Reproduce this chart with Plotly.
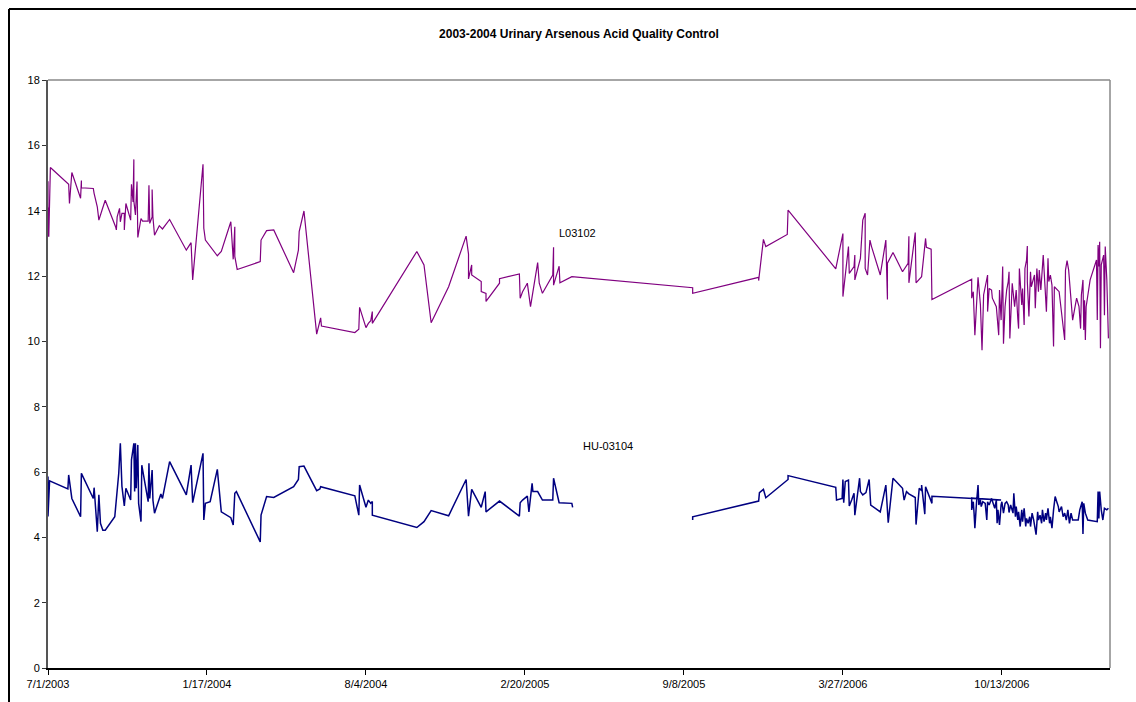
import plotly.graph_objects as go

TITLE = "2003-2004 Urinary Arsenous Acid Quality Control"

l_name = "L03102"
l_dates = [
    "2003-07-01", "2003-07-01", "2003-07-02", "2003-07-02", "2003-07-04", "2003-07-27", "2003-07-28",
    "2003-07-31", "2003-08-11", "2003-08-12", "2003-08-12", "2003-08-27", "2003-08-28", "2003-09-01",
    "2003-09-03", "2003-09-07", "2003-09-11", "2003-09-24", "2003-09-25", "2003-09-26", "2003-09-29",
    "2003-09-30", "2003-10-02", "2003-10-05", "2003-10-05", "2003-10-07", "2003-10-13", "2003-10-14",
    "2003-10-16", "2003-10-17", "2003-10-17", "2003-10-19", "2003-10-21", "2003-10-22", "2003-10-26",
    "2003-10-28", "2003-11-04", "2003-11-05", "2003-11-06", "2003-11-09", "2003-11-09", "2003-11-10",
    "2003-11-12", "2003-11-18", "2003-11-22", "2003-12-01", "2003-12-22", "2003-12-28", "2003-12-30",
    "2004-01-12", "2004-01-13", "2004-01-15", "2004-01-30", "2004-02-04", "2004-02-16", "2004-02-19",
    "2004-02-21", "2004-02-21", "2004-02-24", "2004-03-24", "2004-03-25", "2004-04-01", "2004-04-10",
    "2004-05-05", "2004-05-11", "2004-05-12", "2004-05-18", "2004-06-03", "2004-06-06", "2004-06-08",
    "2004-06-09", "2004-07-21", "2004-07-26", "2004-07-27", "2004-08-04", "2004-08-07", "2004-08-10",
    "2004-08-12", "2004-08-12", "2004-10-07", "2004-10-16", "2004-10-25", "2004-11-16", "2004-12-08",
    "2004-12-11", "2004-12-11", "2004-12-15", "2004-12-15", "2004-12-27", "2004-12-27", "2005-01-02",
    "2005-01-02", "2005-01-19", "2005-01-19", "2005-02-13", "2005-02-14", "2005-02-17", "2005-02-23",
    "2005-02-27", "2005-03-01", "2005-03-08", "2005-03-10", "2005-03-14", "2005-03-27", "2005-03-28",
    "2005-03-28", "2005-04-04", "2005-04-05", "2005-04-20", "2005-09-19", "2005-09-19", "2005-12-11",
    "2005-12-11", "2005-12-17", "2005-12-20", "2006-01-16", "2006-01-17", "2006-03-18", "2006-03-27",
    "2006-03-27", "2006-04-03", "2006-04-04", "2006-04-10", "2006-04-11", "2006-04-11", "2006-04-18",
    "2006-04-21", "2006-04-24", "2006-04-24", "2006-04-27", "2006-04-30", "2006-05-02", "2006-05-13",
    "2006-05-20", "2006-05-22", "2006-05-22", "2006-05-29", "2006-06-10", "2006-06-17", "2006-06-18",
    "2006-06-18", "2006-06-26", "2006-06-27", "2006-07-04", "2006-07-09", "2006-07-10", "2006-07-16",
    "2006-07-17", "2006-09-05", "2006-09-05", "2006-09-07", "2006-09-09", "2006-09-11", "2006-09-13",
    "2006-09-16", "2006-09-18", "2006-09-20", "2006-09-25", "2006-09-25", "2006-09-27", "2006-09-30",
    "2006-10-01", "2006-10-06", "2006-10-07", "2006-10-09", "2006-10-10", "2006-10-12", "2006-10-14",
    "2006-10-15", "2006-10-17", "2006-10-19", "2006-10-21", "2006-10-22", "2006-10-23", "2006-10-26",
    "2006-10-29", "2006-10-31", "2006-11-02", "2006-11-03", "2006-11-04", "2006-11-07", "2006-11-08",
    "2006-11-10", "2006-11-11", "2006-11-13", "2006-11-14", "2006-11-14", "2006-11-16", "2006-11-18",
    "2006-11-19", "2006-11-23", "2006-11-24", "2006-11-26", "2006-11-28", "2006-11-29", "2006-12-01",
    "2006-12-03", "2006-12-04", "2006-12-06", "2006-12-08", "2006-12-10", "2006-12-11", "2006-12-13",
    "2006-12-15", "2006-12-17", "2006-12-18", "2006-12-24", "2006-12-31", "2007-01-01", "2007-01-03",
    "2007-01-05", "2007-01-10", "2007-01-15", "2007-01-18", "2007-01-20", "2007-01-21", "2007-01-23",
    "2007-01-24", "2007-01-25", "2007-01-26", "2007-01-27", "2007-02-01", "2007-02-09", "2007-02-10",
    "2007-02-11", "2007-02-12", "2007-02-13", "2007-02-14", "2007-02-15", "2007-02-18", "2007-02-19",
    "2007-02-20", "2007-02-22", "2007-02-24",
]
l_values = [
    14.9, 13.2, 14.1, 13.2, 15.32, 14.81, 14.22,
    15.17, 14.38, 14.92, 14.7, 14.68, 14.53, 14.12,
    13.71, 14.02, 14.32, 13.51, 13.41, 13.81, 14.07,
    13.66, 13.92, 13.92, 13.41, 14.22, 13.71, 14.81,
    14.27, 15.57, 14.3, 13.87, 14.89, 13.18, 13.76,
    13.68, 13.68, 14.78, 13.61, 13.81, 14.65, 13.8,
    13.25, 13.54, 13.44, 13.73, 12.79, 13.02, 11.88,
    15.42, 13.46, 13.1, 12.62, 12.75, 13.66, 12.51,
    13.51, 12.6, 12.2, 12.44, 13.1, 13.39, 13.41,
    12.1, 12.79, 13.36, 13.99, 10.22, 10.5, 10.72,
    10.47, 10.27, 10.37, 11.04, 10.42, 10.55, 10.63,
    10.91, 10.55, 12.75, 12.34, 10.57, 11.67, 13.22,
    12.67, 11.91, 12.34, 12.03, 11.83, 11.52, 11.47,
    11.22, 11.78, 11.92, 12.06, 11.32, 11.52, 11.78,
    11.06, 11.37, 12.41, 11.78, 11.47, 12.03, 12.88,
    11.72, 12.3, 11.79, 11.98, 11.64, 11.47, 11.96,
    11.86, 13.12, 12.9, 13.27, 14.02, 12.22, 13.3,
    11.37, 12.9, 12.08, 12.29, 12.64, 11.88, 12.54,
    13.71, 13.92, 12.23, 12.03, 13.1, 12.9, 12.03,
    13.1, 11.28, 12.39, 12.72, 12.13, 12.39, 13.22,
    11.79, 13.33, 11.79, 11.98, 13.15, 12.88, 12.82,
    11.28, 11.9, 11.32, 11.52, 10.19, 11.06, 11.96,
    11.11, 9.73, 11.42, 12.03, 10.91, 11.62, 11.57,
    11.32, 11.06, 10.7, 10.19, 11.57, 10.65, 12.29,
    9.93, 11.06, 11.57, 11.83, 12.13, 10.09, 11.78,
    11.06, 11.57, 10.7, 10.39, 12.23, 11.11, 11.62,
    10.5, 12.23, 12.49, 12.92, 11.83, 10.76, 12.13,
    11.67, 12.03, 11.01, 12.23, 11.52, 12.18, 11.57,
    12.18, 12.64, 11.78, 10.91, 12.54, 11.83, 12.03,
    11.72, 9.84, 11.67, 11.52, 10.04, 12.18, 12.47,
    12.18, 10.65, 11.32, 11.06, 10.39, 11.42, 11.88,
    10.35, 11.26, 10.04, 11.06, 11.88, 12.49, 10.65,
    12.95, 12.29, 13.05, 9.79, 12.34, 12.64, 10.8,
    12.9, 11.88, 10.09,
]

hu_name = "HU-03104"
hu_dates = [
    "2003-07-01", "2003-07-01", "2003-07-03", "2003-07-26", "2003-07-27", "2003-07-31", "2003-08-11",
    "2003-08-12", "2003-08-27", "2003-08-28", "2003-08-29", "2003-09-01", "2003-09-03", "2003-09-05",
    "2003-09-08", "2003-09-11", "2003-09-23", "2003-09-28", "2003-09-30", "2003-10-02", "2003-10-05",
    "2003-10-07", "2003-10-13", "2003-10-14", "2003-10-17", "2003-10-18", "2003-10-19", "2003-10-20",
    "2003-10-22", "2003-10-23", "2003-10-26", "2003-10-27", "2003-11-04", "2003-11-05", "2003-11-06",
    "2003-11-09", "2003-11-10", "2003-11-12", "2003-11-20", "2003-11-22", "2003-12-01", "2003-12-22",
    "2003-12-28", "2003-12-30", "2004-01-12", "2004-01-13", "2004-01-15", "2004-01-21", "2004-01-30",
    "2004-02-04", "2004-02-16", "2004-02-19", "2004-02-21", "2004-02-23", "2004-03-24", "2004-03-25",
    "2004-04-01", "2004-04-10", "2004-05-05", "2004-05-11", "2004-05-12", "2004-05-18", "2004-06-03",
    "2004-06-07", "2004-06-08", "2004-07-21", "2004-07-26", "2004-07-27", "2004-08-04", "2004-08-07",
    "2004-08-10", "2004-08-12", "2004-08-12", "2004-10-07", "2004-10-16", "2004-10-25", "2004-11-16",
    "2004-12-08", "2004-12-11", "2004-12-15", "2004-12-27", "2005-01-01", "2005-01-02", "2005-01-19",
    "2005-02-13", "2005-02-14", "2005-02-17", "2005-02-23", "2005-02-25", "2005-03-01", "2005-03-02",
    "2005-03-08", "2005-03-14", "2005-03-27", "2005-03-28", "2005-04-04", "2005-04-20", "2005-04-21",
    "2005-06-15",
    "2005-09-19", "2005-09-19", "2005-12-11", "2005-12-12", "2005-12-17", "2005-12-20", "2006-01-17",
    "2006-01-17", "2006-03-18", "2006-03-19", "2006-03-26", "2006-03-27", "2006-03-28", "2006-03-30",
    "2006-04-03", "2006-04-04", "2006-04-07", "2006-04-10", "2006-04-11", "2006-04-17", "2006-04-18",
    "2006-04-21", "2006-04-25", "2006-04-29", "2006-05-01", "2006-05-13", "2006-05-20", "2006-05-23",
    "2006-05-29", "2006-06-10", "2006-06-12", "2006-06-15", "2006-06-18", "2006-06-26", "2006-06-27",
    "2006-07-01", "2006-07-04", "2006-07-04", "2006-07-08", "2006-07-09", "2006-07-17", "2006-07-17",
    "2006-10-12", "2006-09-05", "2006-09-05", "2006-09-07", "2006-09-08", "2006-09-09", "2006-09-11",
    "2006-09-13", "2006-09-14", "2006-09-16", "2006-09-17", "2006-09-19", "2006-09-22", "2006-09-24",
    "2006-09-25", "2006-09-27", "2006-09-30", "2006-10-02", "2006-10-04", "2006-10-06", "2006-10-07",
    "2006-10-08", "2006-10-10", "2006-10-12", "2006-10-13", "2006-10-15", "2006-10-17", "2006-10-19",
    "2006-10-21", "2006-10-22", "2006-10-24", "2006-10-27", "2006-10-28", "2006-10-30", "2006-10-31",
    "2006-11-02", "2006-11-03", "2006-11-05", "2006-11-07", "2006-11-08", "2006-11-10", "2006-11-12",
    "2006-11-13", "2006-11-15", "2006-11-17", "2006-11-18", "2006-11-20", "2006-11-22", "2006-11-23",
    "2006-11-25", "2006-11-27", "2006-11-28", "2006-11-30", "2006-12-02", "2006-12-03", "2006-12-05",
    "2006-12-07", "2006-12-08", "2006-12-10", "2006-12-12", "2006-12-13", "2006-12-15", "2006-12-17",
    "2006-12-19", "2006-12-21", "2006-12-23", "2006-12-24", "2006-12-27", "2006-12-29", "2006-12-31",
    "2007-01-02", "2007-01-04", "2007-01-06", "2007-01-08", "2007-01-10", "2007-01-17", "2007-01-19",
    "2007-01-21", "2007-01-22", "2007-01-23", "2007-01-24", "2007-01-26", "2007-01-29", "2007-02-10",
    "2007-02-11", "2007-02-12", "2007-02-13", "2007-02-15", "2007-02-17", "2007-02-19", "2007-02-22",
    "2007-02-24",
]
hu_values = [
    5.86, 4.64, 5.73, 5.48, 5.91, 5.19, 4.63,
    5.96, 5.19, 5.52, 5.19, 4.17, 5.3, 4.43,
    4.22, 4.22, 4.63, 5.96, 6.88, 5.56, 4.96,
    5.5, 5.14, 6.37, 6.88, 5.4, 6.88, 5.5,
    6.83, 5.04, 4.48, 6.21, 5.09, 6.27, 5.19,
    6.06, 5.14, 4.74, 5.33, 5.19, 6.32, 5.3,
    6.21, 5.06, 6.57, 4.53, 5.04, 5.09, 6.08,
    4.78, 4.6, 4.38, 5.35, 5.4, 3.86, 4.68,
    5.25, 5.22, 5.55, 5.77, 6.16, 6.18, 5.43,
    5.48, 5.55, 5.27, 4.68, 5.6, 4.92, 5.14,
    5.04, 5.1, 4.68, 4.3, 4.48, 4.82, 4.66,
    5.77, 4.65, 5.47, 4.92, 5.4, 4.78, 5.11,
    4.65, 5.06, 5.14, 5.26, 4.78, 5.65, 5.4,
    5.4, 5.14, 5.14, 5.81, 5.06, 5.04, 4.92,
    None,
    4.53, 4.63, 5.11, 5.37, 5.47, 5.21, 5.77,
    5.89, 5.53, 5.14, 5.19, 5.77, 5.06, 5.71,
    5.75, 4.96, 5.14, 5.35, 4.68, 5.81, 5.4,
    5.3, 5.37, 5.77, 4.99, 4.78, 5.6, 4.45,
    5.81, 5.5, 5.14, 5.4, 5.33, 5.22, 4.39,
    5.5, 5.43, 5.6, 4.71, 5.55, 5.04, 5.26,
    5.14, 5.2, 4.84, 5.09, 4.74, 4.28, 5.04,
    5.6, 4.99, 5.14, 4.94, 5.09, 5.04, 4.53,
    5.09, 4.99, 5.19, 5.04, 4.89, 5.14, 4.43,
    4.84, 4.38, 4.99, 5.09, 4.74, 5.04, 5.09,
    4.99, 4.76, 4.99, 4.74, 5.35, 4.63, 4.94,
    4.53, 4.78, 4.33, 4.84, 4.48, 4.89, 4.33,
    4.58, 4.43, 4.63, 4.33, 4.74, 4.53, 4.38,
    4.08, 4.78, 4.53, 4.68, 4.43, 4.84, 4.48,
    4.74, 4.53, 4.89, 4.43, 4.63, 4.28, 4.84,
    5.25, 5.09, 4.94, 4.78, 4.94, 4.63, 4.74,
    4.53, 4.84, 4.43, 4.74, 4.53, 4.53, 4.84,
    4.99, 5.09, 4.1, 5.04, 4.74, 4.53, 4.48,
    5.4, 4.58, 5.4, 4.84, 4.53, 4.89, 4.84,
    4.89,
]

x_range = ["2003-07-01", "2007-02-26"]
x_tick0 = "2003-07-01"
x_tick_days = 200
y_range = [0, 18]
y_tick_step = 2

FONT = "Liberation Sans, Arial, sans-serif"

FIG_W, FIG_H = 1136, 702
M_L, M_R, M_T, M_B = 48, 26, 80, 34
PW = FIG_W - M_L - M_R
PH = FIG_H - M_T - M_B

fig = go.Figure()
fig.add_trace(go.Scatter(x=l_dates, y=l_values, mode="lines", name=l_name,
                         line=dict(color="#800080", width=1.2), connectgaps=False))
fig.add_trace(go.Scatter(x=hu_dates, y=hu_values, mode="lines", name=hu_name,
                         line=dict(color="#000080", width=1.5), connectgaps=False))

frame_x = (9 - M_L) / PW
frame_y = 1 + (M_T - 9) / PH

fig.update_layout(
    width=FIG_W, height=FIG_H,
    margin=dict(l=M_L, r=M_R, t=M_T, b=M_B, autoexpand=False),
    paper_bgcolor="white", plot_bgcolor="white",
    showlegend=False,
    hovermode=False,
    font=dict(family=FONT, size=11, color="#000000"),
    title=dict(text="<b>" + TITLE + "</b>", x=0.5, xref="paper", xanchor="center",
               y=1 - 34 / FIG_H, yref="container", yanchor="middle",
               font=dict(family=FONT, size=12, color="#000000")),
    xaxis=dict(type="date", range=x_range, tick0=x_tick0, dtick=x_tick_days * 86400000,
               tickformat="%-m/%-d/%Y", showgrid=False, zeroline=False,
               showline=True, linecolor="#000000", linewidth=1.5,
               ticks="outside", ticklen=5, tickcolor="#000000", tickwidth=1,
               tickfont=dict(family=FONT, size=11, color="#000000")),
    yaxis=dict(range=y_range, dtick=y_tick_step, tick0=0, showgrid=False, zeroline=False,
               showline=True, linecolor="#555555", linewidth=2,
               ticks="outside", ticklen=4, tickcolor="#333333", tickwidth=1,
               tickfont=dict(family=FONT, size=11, color="#000000")),
    annotations=[
        dict(text=l_name, x=0.499, y=0.7398, xref="paper", yref="paper",
             xanchor="center", yanchor="middle",
             showarrow=False, font=dict(family=FONT, size=11, color="#000000")),
        dict(text=hu_name, x=0.527, y=0.3776, xref="paper", yref="paper",
             xanchor="center", yanchor="middle",
             showarrow=False, font=dict(family=FONT, size=11, color="#000000")),
    ],
    shapes=[
        dict(type="line", xref="paper", yref="paper", x0=0, x1=1, y0=1, y1=1,
             line=dict(color="#888888", width=1.5), layer="below"),
        dict(type="line", xref="paper", yref="paper", x0=1, x1=1, y0=0, y1=1,
             line=dict(color="#888888", width=1.5), layer="below"),
        dict(type="line", xref="paper", yref="paper", x0=frame_x, x1=1.05, y0=frame_y, y1=frame_y,
             line=dict(color="#000000", width=2)),
        dict(type="line", xref="paper", yref="paper", x0=frame_x, x1=frame_x, y0=frame_y, y1=-0.1,
             line=dict(color="#000000", width=2)),
    ],
)

fig.write_html(
    "out.html",
    config={"displayModeBar": False, "staticPlot": True},
    post_script="document.body.style.margin='0';document.body.style.overflow='hidden';",
)
